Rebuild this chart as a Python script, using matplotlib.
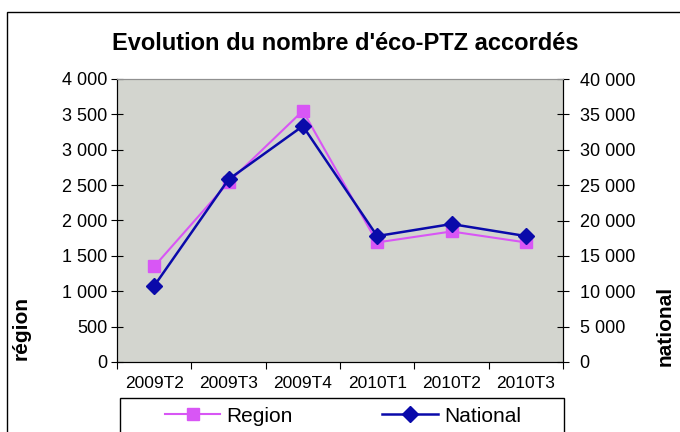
import matplotlib
matplotlib.use("Agg")
import matplotlib.pyplot as plt
from matplotlib.patches import Rectangle
from matplotlib.ticker import FuncFormatter, MultipleLocator

categories = ["2009T2", "2009T3", "2009T4", "2010T1", "2010T2", "2010T3"]
region = [1350, 2540, 3550, 1690, 1845, 1690]
national = [10750, 25800, 33350, 17800, 19500, 17800]

plt.rcParams['font.family'] = ['Liberation Sans', 'DejaVu Sans']

W, H = 680, 432
fig = plt.figure(figsize=(W / 100, H / 100), dpi=100)

# outer chart frame
fig.patches.append(Rectangle((7 / W, -0.1), 2.0, (H - 12) / H + 0.1, transform=fig.transFigure,
                             fill=False, edgecolor='black', linewidth=1.0))
# legend frame (extends below the picture edge)
fig.patches.append(Rectangle((120 / W, -0.1), (564 - 120) / W, (H - 398) / H + 0.1, transform=fig.transFigure,
                             fill=True, facecolor='white', edgecolor='black', linewidth=1.0))

left, right, top, bottom = 117, 563, 79, 362
ax = fig.add_axes([left / W, 1 - bottom / H, (right - left) / W, (bottom - top) / H])
ax.set_facecolor('#D3D5CF')
x = list(range(len(categories)))

ax.plot(x, region, color='#D856F5', marker='s', markersize=8, linewidth=1.5, label='Region')
ax.set_ylim(0, 4000)
ax.set_xlim(-0.5, len(categories) - 0.5)
ax.yaxis.set_major_locator(MultipleLocator(500))
fmt = FuncFormatter(lambda v, p: f"{int(v):,}".replace(",", " "))
ax.yaxis.set_major_formatter(fmt)

ax2 = ax.twinx()
ax2.plot(x, national, color='#0A0AAA', marker='D', markersize=8, linewidth=1.8, label='National')
ax2.set_ylim(0, 40000)
ax2.yaxis.set_major_locator(MultipleLocator(5000))
ax2.yaxis.set_major_formatter(fmt)

ax.set_xticks([i - 0.5 for i in range(len(categories) + 1)])
ax.set_xticklabels([])
ax.set_xticks(x, minor=True)
ax.set_xticklabels(categories, minor=True, fontsize=12.5)
ax.tick_params(axis='x', which='minor', length=0, pad=10)
ax.tick_params(axis='x', which='major', direction='out', length=5)
ax.tick_params(axis='y', direction='inout', length=8, labelsize=13, pad=3)
ax2.tick_params(axis='y', direction='inout', length=8, labelsize=13, pad=8)

for a in (ax, ax2):
    a.spines['top'].set_color('#909090')
    a.spines['left'].set_color('black')
    a.spines['right'].set_color('black')
    a.spines['bottom'].set_color('black')

fig.text(345 / W, 1 - 44 / H, "Evolution du nombre d'éco-PTZ accordés", ha='center', va='center',
         fontsize=17, fontweight='bold')
fig.text(21 / W, 1 - 328 / H, "région", rotation=90, ha='center', va='center', fontsize=15, fontweight='bold')
fig.text(665 / W, 1 - 326 / H, "national", rotation=90, ha='center', va='center', fontsize=15, fontweight='bold')

h1, l1 = ax.get_legend_handles_labels()
h2, l2 = ax2.get_legend_handles_labels()
leg = fig.legend(h1 + h2, l1 + l2, loc='center left',
                 bbox_to_anchor=(165 / W, 1 - 416 / H),
                 ncol=2, fontsize=15, frameon=False, handlelength=2.65, handletextpad=0.3,
                 borderpad=0, columnspacing=4.3, borderaxespad=0)

fig.savefig("out.png", dpi=100)
